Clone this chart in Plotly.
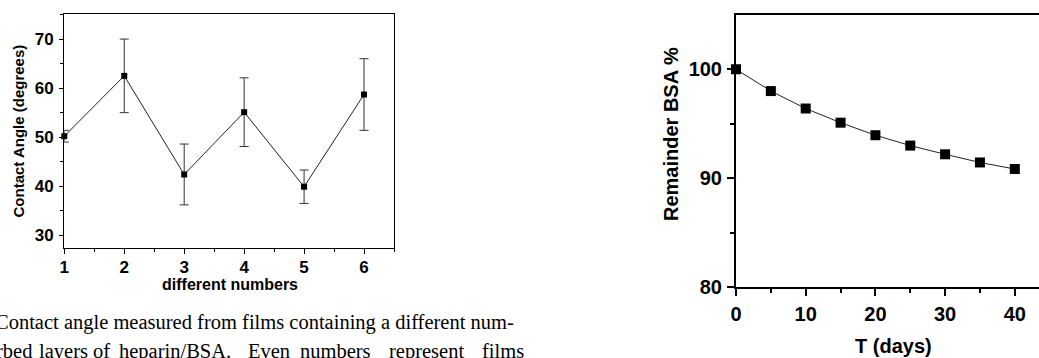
import plotly.graph_objects as go

W, H = 1039, 358

# ---- Left chart data ----
layers = [1, 2, 3, 4, 5, 6]
contact_angle = [50.2, 62.5, 42.4, 55.1, 39.9, 58.7]
angle_err = [1.2, 7.5, 6.2, 7.0, 3.4, 7.3]
left_xticks = [1, 2, 3, 4, 5, 6]
left_yticks = [30, 40, 50, 60, 70]

# ---- Right chart data ----
days = [0, 5, 10, 15, 20, 25, 30, 35, 40]
remainder_bsa = [100.0, 98.0, 96.4, 95.1, 93.95, 93.0, 92.2, 91.45, 90.85]
right_xticks = [0, 10, 20, 30, 40]
right_yticks = [80, 90, 100]

caption_line1 = "Contact angle measured from films containing a different num-"
caption_line2_words = ["rbed", "layers", "of", "heparin/BSA.", "Even", "numbers", "represent", "films"]
caption_line2_x = [-6, 37, 91, 117, 246, 298, 387, 480]

def px(x):
    return x / W

def py(y):
    return 1 - y / H

SANS = "Liberation Sans, Arial, sans-serif"
SERIF = "Liberation Serif, Times New Roman, serif"

fig = go.Figure()

fig.add_trace(go.Scatter(
    x=layers, y=contact_angle, mode="lines+markers",
    line=dict(color="#222222", width=1),
    marker=dict(symbol="square", size=6, color="black"),
    error_y=dict(type="data", array=angle_err, visible=True, color="#333333", thickness=1, width=4.5),
    xaxis="x", yaxis="y", showlegend=False, cliponaxis=False,
))

fig.add_trace(go.Scatter(
    x=days, y=remainder_bsa, mode="lines+markers",
    line=dict(color="#222222", width=1),
    marker=dict(symbol="square", size=10, color="black"),
    xaxis="x2", yaxis="y2", showlegend=False, cliponaxis=False,
))

left_axis_common = dict(
    showgrid=False, zeroline=False, showline=True, linecolor="black", linewidth=1.3,
    mirror=True, ticks="outside", tickcolor="black", tickwidth=1.3,
    tickfont=dict(family=SANS, size=17, color="black", weight="bold"),
    automargin=False,
)

fig.update_layout(
    width=W, height=H,
    margin=dict(l=0, r=0, t=0, b=0, pad=0, autoexpand=False),
    paper_bgcolor="white", plot_bgcolor="white",
    xaxis=dict(
        domain=[px(64.3), px(394)], range=[1, 6.5], anchor="y",
        tickvals=left_xticks, ticktext=[str(v) for v in left_xticks], ticklen=5,
        minor=dict(dtick=0.5, tick0=1, ticks="outside", ticklen=3, tickwidth=1.3, tickcolor="black"),
        ticklabelstandoff=-2,
        **left_axis_common,
    ),
    yaxis=dict(
        domain=[py(248.3), py(14.3)], range=[27.35, 75.05], anchor="x",
        tickvals=left_yticks, ticktext=[str(v) for v in left_yticks], ticklen=4,
        minor=dict(dtick=5, tick0=0, ticks="outside", ticklen=3, tickwidth=1.3, tickcolor="black"),
        ticklabelstandoff=2,
        **left_axis_common,
    ),
    xaxis2=dict(
        domain=[px(736), 1.0], range=[0, 43.47], anchor="y2",
        showgrid=False, zeroline=False, showline=True, linecolor="black", linewidth=2,
        mirror=True, ticks="outside", tickcolor="black", tickwidth=2, ticklen=7,
        tickvals=right_xticks, ticktext=[str(v) for v in right_xticks],
        minor=dict(dtick=5, tick0=0, ticks="outside", ticklen=4, tickwidth=2, tickcolor="black"),
        tickfont=dict(family=SANS, size=20, color="black", weight="bold"),
        ticklabelstandoff=1, automargin=False,
    ),
    yaxis2=dict(
        domain=[py(287.3), py(15.3)], range=[80, 104.95], anchor="x2",
        showgrid=False, zeroline=False, showline=True, linecolor="black", linewidth=2,
        mirror=False, ticks="outside", tickcolor="black", tickwidth=2, ticklen=7,
        tickvals=right_yticks, ticktext=[str(v) for v in right_yticks],
        minor=dict(dtick=5, tick0=0, ticks="outside", ticklen=4, tickwidth=2, tickcolor="black"),
        tickfont=dict(family=SANS, size=20, color="black", weight="bold"),
        ticklabelstandoff=1, automargin=False,
    ),
)

annotations = [
    dict(text="Contact Angle (degrees)", x=px(18.5), y=py(131), textangle=-90,
         font=dict(family=SANS, size=15, color="black", weight="bold")),
    dict(text="different numbers", x=px(230), y=py(284),
         font=dict(family=SANS, size=16, color="black", weight="bold")),
    dict(text="Remainder BSA %", x=px(671), y=py(134), textangle=-90,
         font=dict(family=SANS, size=20, color="black", weight="bold")),
    dict(text="T (days)", x=px(893), y=py(346),
         font=dict(family=SANS, size=20, color="black", weight="bold")),
    dict(text=caption_line1, x=px(-7), y=py(322), xanchor="left",
         font=dict(family=SERIF, size=20.5, color="black")),
]
for w, xx in zip(caption_line2_words, caption_line2_x):
    annotations.append(dict(text=w, x=px(xx), y=py(351), xanchor="left",
                            font=dict(family=SERIF, size=20.5, color="black")))

for a in annotations:
    a.setdefault("xanchor", "center")
    a.update(xref="paper", yref="paper", yanchor="middle", showarrow=False)

fig.update_layout(annotations=annotations)

fig.write_html("out.html")
